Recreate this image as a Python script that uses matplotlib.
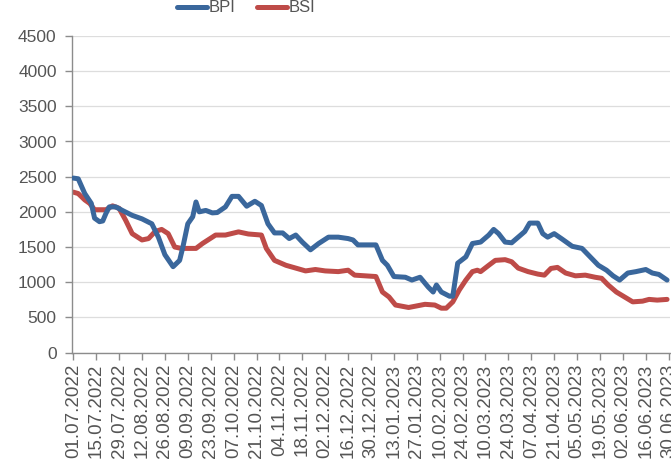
import datetime as dt
import matplotlib
matplotlib.use("Agg")
import matplotlib.pyplot as plt
import matplotlib.dates as mdates

# ---- data ----
start_date = "01.07.2022"
# day offsets from 01.07.2022 and index values
bpi_days = [0, 3, 7, 11, 13, 16, 18, 20, 22, 26, 30, 36, 42, 48, 52, 56, 61, 65, 67, 70,
            73, 75, 77, 81, 85, 88, 93, 97, 101, 106, 111, 115, 119, 123, 128, 132, 136,
            140, 145, 150, 156, 162, 168, 171, 174, 185, 189, 192, 196, 203, 207, 212,
            217, 220, 222, 225, 230, 232, 235, 240, 244, 249, 254, 257, 260, 264, 268,
            272, 276, 279, 284, 287, 290, 294, 299, 305, 311, 316, 321, 326, 330, 334,
            339, 344, 350, 354, 358, 363]
bpi_vals = [2480, 2470, 2260, 2120, 1910, 1860, 1870, 1980, 2070, 2070, 2020, 1950, 1900,
            1830, 1640, 1390, 1220, 1310, 1500, 1830, 1930, 2140, 2000, 2020, 1985, 1990,
            2070, 2220, 2220, 2080, 2150, 2090, 1830, 1700, 1700, 1620, 1670, 1570, 1460,
            1550, 1640, 1640, 1620, 1600, 1530, 1530, 1310, 1240, 1080, 1070, 1030, 1070,
            930, 860, 960, 860, 800, 800, 1270, 1360, 1550, 1570, 1670, 1750, 1690, 1570,
            1560, 1640, 1720, 1840, 1840, 1690, 1640, 1690, 1610, 1510, 1480, 1360, 1240,
            1170, 1090, 1030, 1130, 1150, 1180, 1130, 1110, 1030]
bsi_days = [0, 3, 7, 10, 13, 20, 24, 28, 32, 36, 42, 46, 50, 54, 58, 62, 66, 75, 79, 85,
            87, 93, 101, 107, 115, 118, 123, 130, 136, 142, 148, 154, 162, 168, 172, 185,
            189, 193, 197, 205, 215, 221, 225, 228, 232, 236, 240, 244, 247, 249, 254,
            258, 264, 268, 272, 278, 284, 288, 292, 296, 301, 307, 313, 319, 323, 327,
            332, 337, 342, 348, 352, 357, 363]
bsi_vals = [2280, 2260, 2170, 2120, 2030, 2030, 2085, 2050, 1880, 1690, 1600, 1620, 1720,
            1750, 1690, 1500, 1480, 1480, 1550, 1640, 1670, 1670, 1715, 1685, 1670, 1480,
            1310, 1240, 1200, 1160, 1180, 1160, 1150, 1170, 1100, 1080, 860, 790, 675,
            640, 685, 675, 630, 630, 720, 890, 1030, 1150, 1170, 1150, 1240, 1310, 1320,
            1290, 1200, 1150, 1115, 1100, 1195, 1210, 1130, 1090, 1100, 1070, 1055, 960,
            860, 790, 720, 730, 755, 745, 755]
series_names = ["BPI", "BSI"]
y_ticks = [0, 500, 1000, 1500, 2000, 2500, 3000, 3500, 4000, 4500]
tick_step_days = 14
end_date = "30.06.2023"

# ---- build ----
base = dt.datetime.strptime(start_date, "%d.%m.%Y")
end = dt.datetime.strptime(end_date, "%d.%m.%Y")
bpi_dates = [base + dt.timedelta(days=d) for d in bpi_days]
bsi_dates = [base + dt.timedelta(days=d) for d in bsi_days]
tick_dates = []
t = base
while t <= end:
    tick_dates.append(t)
    t += dt.timedelta(days=tick_step_days)

plt.rcParams['font.family'] = ['Liberation Sans', 'DejaVu Sans']
txt = '#555555'

fig = plt.figure(figsize=(6.71, 4.73), dpi=100)
ax = fig.add_axes([72 / 671, 1 - 352.5 / 473, 598 / 671, (352.5 - 36) / 473])

blue = '#3A679C'
red = '#BE4B48'
l1, = ax.plot(bpi_dates, bpi_vals, color=blue, lw=3.6, solid_joinstyle='round',
              solid_capstyle='round', label=series_names[0], zorder=3)
l2, = ax.plot(bsi_dates, bsi_vals, color=red, lw=3.6, solid_joinstyle='round',
              solid_capstyle='round', label=series_names[1], zorder=2)

ax.set_ylim(0, 4500)
ax.set_yticks(y_ticks)
ax.set_xlim(base - dt.timedelta(days=0.8), end + dt.timedelta(days=0.8))
ax.set_xticks(tick_dates)
ax.xaxis.set_major_formatter(mdates.DateFormatter('%d.%m.%Y'))

ax.grid(axis='y', color='#DDDDDD', lw=0.9)
ax.set_axisbelow(True)
for s in ['top', 'right']:
    ax.spines[s].set_visible(False)
for s in ['left', 'bottom']:
    ax.spines[s].set_color('#8C8C8C')
    ax.spines[s].set_linewidth(1.0)

ax.tick_params(axis='y', labelsize=12.5, colors='#8C8C8C', labelcolor=txt,
               length=5, width=1, pad=6)
ax.tick_params(axis='x', labelsize=13.5, colors='#8C8C8C', labelcolor=txt,
               length=5, width=1, pad=3, labelrotation=90)

fig.legend(handles=[l1, l2], loc='center', bbox_to_anchor=(0.367, 1 - 8 / 473),
           ncol=2, frameon=False, fontsize=12, handlelength=1.8,
           handletextpad=0.1, columnspacing=1.3, labelcolor=txt)

fig.savefig('out.png', dpi=100)
